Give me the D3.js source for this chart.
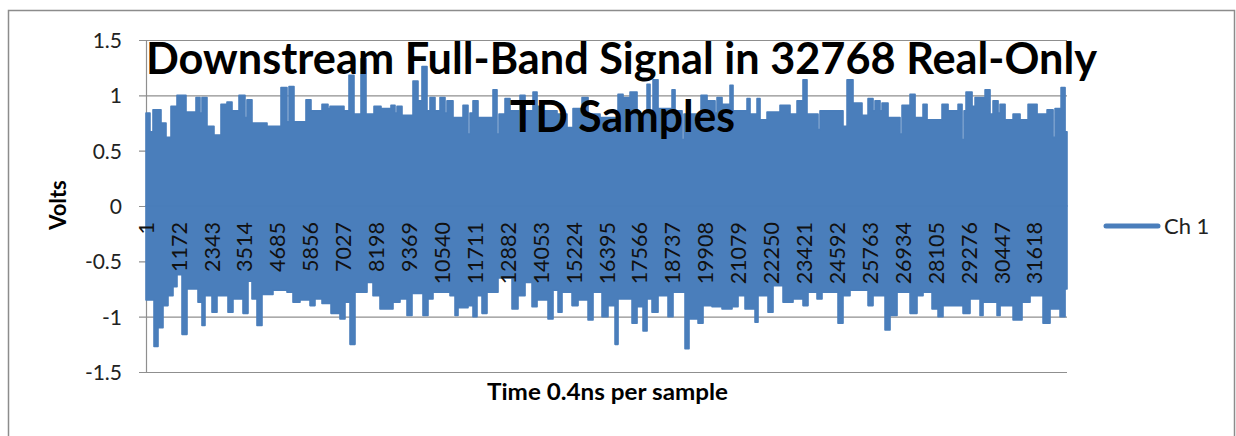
<!DOCTYPE html>
<html><head><meta charset="utf-8">
<script src="https://cdn.jsdelivr.net/npm/d3@7"></script>
<style>
body{margin:0;background:#fff}
svg{display:block}
text{font-family:Lato,Carlito,Calibri,"Open Sans",sans-serif}
</style>
</head><body>
<svg id="c" width="1236" height="436"></svg>
<script>
// ---- data ----
const titleLines = ["Downstream Full-Band Signal in 32768 Real-Only", "TD Samples"];
const yLabel = "Volts";
const xLabel = "Time 0.4ns per sample";
const seriesName = "Ch 1";
const yTicks = [-1.5, -1, -0.5, 0, 0.5, 1, 1.5];
const xTickLabels = [1,1172,2343,3514,4685,5856,7027,8198,9369,10540,11711,12882,14053,15224,16395,17566,18737,19908,21079,22250,23421,24592,25763,26934,28105,29276,30447,31618];
const sampleCount = 32768;

// upper envelope of the signal (sample index where a level starts, level in volts)
const upperIdx = [1,143,250,535,713,890,1104,1424,1780,1922,1993,2171,2420,2669,2883,3061,3310,3523,3594,3772,4306,4804,5017,5089,5266,5693,5871,6263,6476,6547,7045,7223,7401,7650,7828,8113,8362,8717,8860,8931,9109,9500,9678,9820,9998,10105,10283,10461,10639,10710,10924,11280,11457,11528,11635,11813,12347,12489,12560,12774,12952,13308,13486,13770,13913,14126,14624,14980,15194,15514,15728,16154,16795,16973,17222,17471,17827,17933,18040,18218,18716,18823,19072,19143,19748,19962,20246,20317,20495,20779,20886,21384,21491,21740,21847,22096,22558,22914,23163,23376,23518,23910,23981,24799,24942,25155,25475,25689,25867,25938,26116,26187,26401,26828,26899,27184,27362,27646,27789,28322,28536,28892,29034,29105,29176,29390,29497,29853,30030,30137,30315,30386,30564,30849,31098,31383,31703,32059,32272,32343,32557,32699,32768];
const upperVal = [0.84,0.67,0.87,0.75,0.62,0.90,1.00,0.85,0.98,0.84,0.98,0.72,0.64,0.92,0.94,0.86,1.00,0.80,0.96,0.75,0.72,1.07,0.76,1.08,0.76,0.96,0.86,0.92,0.88,0.90,0.86,1.18,0.83,1.33,0.83,0.90,0.88,0.91,0.84,0.90,0.82,1.13,0.95,1.26,0.86,0.98,0.86,0.98,0.84,0.95,0.80,0.91,0.65,0.84,0.95,0.80,1.05,0.65,0.83,0.97,0.86,1.00,0.86,1.03,0.90,0.86,0.83,0.71,0.88,0.98,0.83,0.80,1.01,0.98,1.03,0.83,1.10,0.83,1.14,0.88,1.05,0.86,0.60,0.83,1.00,0.95,0.84,0.98,0.92,1.09,0.86,0.97,0.83,0.97,0.78,0.85,0.91,0.83,0.95,1.14,0.83,0.69,0.86,0.72,1.14,0.93,0.82,0.97,0.86,0.95,0.86,0.93,0.80,0.65,0.91,1.01,0.80,0.92,0.78,0.92,0.86,0.92,0.60,0.86,1.03,0.90,0.98,1.05,0.83,0.95,0.84,0.92,0.78,0.83,0.78,0.92,0.83,0.87,0.62,0.88,1.07,0.67,0.67];

// lower envelope of the signal
const lowerIdx = [1,286,428,606,784,962,1104,1282,1460,1851,1993,2100,2349,2527,2918,3096,3452,3630,3772,3950,4128,4519,5017,5231,5480,5836,6014,6263,6583,6903,7081,7259,7437,7864,8077,8326,8789,9038,9287,9465,9856,10034,10212,10817,10995,11102,11457,11635,11777,11955,12133,12525,13023,13236,13486,13735,13913,14304,14482,14660,14802,15158,15372,15728,15905,16225,16438,16688,16795,17293,17471,17684,17827,18004,18218,18573,18751,19178,19320,19641,19819,20139,20495,20850,21064,21313,21669,21775,22131,22309,22665,23021,23376,23554,23874,24052,24621,24799,25048,25689,25867,26294,26472,26721,27184,27432,27646,27966,28180,28357,29069,29318,29674,29781,30279,30386,30849,31168,31453,31915,32164,32521,32699,32768];
const lowerVal = [-0.85,-1.27,-1.10,-0.90,-0.81,-0.73,-0.62,-1.16,-0.75,-0.87,-1.08,-0.81,-0.96,-0.81,-0.96,-0.84,-0.97,-0.68,-0.84,-1.08,-0.80,-0.76,-0.78,-0.87,-0.85,-0.90,-0.84,-0.88,-0.97,-1.02,-0.87,-1.25,-0.78,-0.69,-0.81,-0.93,-0.87,-0.84,-0.99,-0.79,-0.99,-0.84,-0.78,-0.81,-0.99,-0.92,-0.90,-1.00,-0.81,-0.97,-0.78,-0.65,-0.93,-0.81,-0.69,-0.91,-0.85,-1.02,-0.76,-0.96,-0.78,-0.90,-0.85,-1.03,-0.78,-1.00,-0.90,-1.25,-0.84,-1.06,-0.91,-1.13,-0.84,-0.96,-0.81,-1.00,-0.78,-1.29,-1.02,-1.06,-0.90,-0.91,-0.93,-0.91,-0.81,-0.93,-1.05,-0.81,-0.96,-0.72,-0.87,-0.84,-0.90,-0.78,-0.84,-0.78,-1.06,-0.81,-0.76,-0.90,-0.81,-1.12,-0.99,-0.78,-0.97,-0.81,-0.78,-0.93,-1.00,-0.90,-0.97,-0.84,-0.99,-0.87,-0.99,-0.90,-1.03,-0.87,-0.81,-1.06,-0.93,-1.00,-0.75,-0.75];

// ---- drawing ----
const svg = d3.select("#c");
const L = 146, R = 1067, T = 40, B = 372;
const blue = "#4a7ebb", grid = "#8f8f8f";

const x = d3.scaleLinear().domain([1, sampleCount]).range([L, R]);
const y = d3.scaleLinear().domain([-1.5, 1.5]).range([B, T]);

// chart border
svg.append("rect").attr("x", 8.5).attr("y", 10.5).attr("width", 1226).attr("height", 440)
  .attr("fill", "none").attr("stroke", "#8c8c8c").attr("stroke-width", 1.5);

// y axis with gridlines
const yAxis = d3.axisLeft(y).tickValues(yTicks).tickSize(-(R - L)).tickSizeOuter(0)
  .tickFormat(d => String(d));
const gy = svg.append("g").attr("transform", `translate(${L},0)`).call(yAxis);
gy.select(".domain").attr("stroke", grid).attr("stroke-width", 1.2);
gy.selectAll(".tick line").attr("stroke", grid).attr("stroke-width", 1.2).attr("x1", -7);
gy.selectAll(".tick text").attr("x", -24).attr("dy", "0.36em")
  .attr("font-size", 21).attr("fill", "#222").attr("font-family", "Lato,Carlito,Calibri,sans-serif");

// signal
const upper = upperIdx.map((s, i) => ({ s, v: upperVal[i] }));
const lower = lowerIdx.map((s, i) => ({ s, v: lowerVal[i] }));
const area = d3.area().x(d => x(d.s)).y0(y(0)).y1(d => y(d.v)).curve(d3.curveStepAfter);
[upper, lower].forEach(data => {
  svg.append("path").datum(data).attr("d", area)
    .attr("fill", blue).attr("stroke", blue).attr("stroke-width", 1.6)
    .attr("stroke-linejoin", "round");
});

// category labels at the zero line
const xAxisG = svg.append("g");
xAxisG.selectAll("text").data(xTickLabels).join("text")
  .attr("transform", d => `translate(${x(d)},222) rotate(-90)`)
  .attr("text-anchor", "end").attr("dy", "0.36em")
  .attr("font-size", 21.5).attr("fill", "#111").text(d => d);

// title
svg.append("text").attr("x", 621.5).attr("y", 74).attr("text-anchor", "middle")
  .attr("font-size", 43).attr("font-weight", "bold").attr("fill", "#000")
  .attr("textLength", 951).attr("lengthAdjust", "spacingAndGlyphs").text(titleLines[0]);
svg.append("text").attr("x", 622.5).attr("y", 132).attr("text-anchor", "middle")
  .attr("font-size", 43).attr("font-weight", "bold").attr("fill", "#000")
  .attr("textLength", 225).attr("lengthAdjust", "spacingAndGlyphs").text(titleLines[1]);

// axis titles
svg.append("text").attr("transform", "translate(58,205) rotate(-90)")
  .attr("text-anchor", "middle").attr("dy", "0.36em")
  .attr("font-size", 22).attr("font-weight", "bold").attr("fill", "#000").text(yLabel);
svg.append("text").attr("x", 607.5).attr("y", 400).attr("text-anchor", "middle")
  .attr("font-size", 22).attr("font-weight", "bold").attr("fill", "#000")
  .attr("textLength", 241).attr("lengthAdjust", "spacingAndGlyphs").text(xLabel);

// legend
svg.append("line").attr("x1", 1106).attr("x2", 1158).attr("y1", 226).attr("y2", 226)
  .attr("stroke", blue).attr("stroke-width", 5).attr("stroke-linecap", "round");
svg.append("text").attr("x", 1164).attr("y", 233.5).attr("font-size", 22)
  .attr("fill", "#222").text(seriesName);
</script>
</body></html>
